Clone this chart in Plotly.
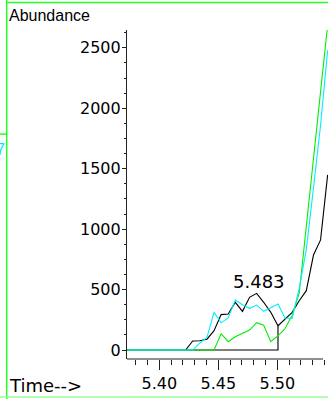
import plotly.graph_objects as go

# ---- data ----
times = [5.3681, 5.3741, 5.3801, 5.3862, 5.3922, 5.3982, 5.4042, 5.4102, 5.4163,
         5.4223, 5.4283, 5.4343, 5.4404, 5.4464, 5.4524, 5.4584, 5.4644, 5.4705,
         5.4765, 5.4825, 5.4885, 5.4945, 5.5006, 5.5066, 5.5126, 5.5186, 5.5246,
         5.5307, 5.5367, 5.5427]
black = [0, 0, 0, 0, 0, 0, 0, 0, 0,
         0, 75, 77, 90, 160, 293, 298, 395, 320,
         436, 469, 395, 312, 201, 257, 312, 408, 491,
         786, 911, 1449]
cyan = [0, 0, 0, 0, 0, 0, 0, 0, 0,
        0, 0, 58, 105, 312, 225, 265, 414, 375,
        345, 372, 320, 350, 381, 265, 262, 510, 830,
        1340, 1860, 2480]
green = [0, 0, 0, 0, 0, 0, 0, 0, 0,
         0, 0, 0, 0, 0, 135, 69, 110, 141,
         165, 226, 205, 69, 118, 178, 288, 470, 1010,
         1590, 2140, 2690]
peak_label = "5.483"
peak_index = 19
base_start, base_end = 9, 22
y_ticks = [0, 500, 1000, 1500, 2000, 2500]

W, H = 328, 399
L, R, T, B = 127, 0, 30, 40.3
pw, ph = W - L - R, H - T - B

def px(x):
    return (x - L) / pw

def py(y):
    return (H - B - y) / ph

FONT = "Liberation Sans, Arial, sans-serif"
WIDE = "DejaVu Sans, Verdana, sans-serif"

fig = go.Figure()
# integration baseline + drop line
fig.add_trace(go.Scatter(
    x=[times[base_start], times[base_end], times[base_end]],
    y=[0, 0, black[base_end]], mode="lines",
    line=dict(color="#000000", width=1.1), hoverinfo="skip"))
fig.add_trace(go.Scatter(x=times, y=black, mode="lines",
                         line=dict(color="#000000", width=1.1)))
fig.add_trace(go.Scatter(x=times, y=green, mode="lines",
                         line=dict(color="#00ee00", width=1.1)))
fig.add_trace(go.Scatter(x=times, y=cyan, mode="lines",
                         line=dict(color="#00eeff", width=1.1)))

fig.add_annotation(x=times[peak_index], y=black[peak_index], xref="x", yref="y",
                   text=peak_label, showarrow=False, xanchor="center",
                   yanchor="middle", xshift=2, yshift=12,
                   font=dict(family=WIDE, size=18, color="#000"))

fig.add_annotation(x=px(7), y=py(16), xref="paper", yref="paper",
                   text="Abundance", showarrow=False, xanchor="left",
                   yanchor="middle", font=dict(family=FONT, size=16, color="#000"))
fig.add_annotation(x=px(7), y=py(385), xref="paper", yref="paper",
                   text="Time-->", showarrow=False, xanchor="left",
                   yanchor="middle", font=dict(family=WIDE, size=18, color="#000"))
fig.add_annotation(x=px(6.5), y=py(149.5), xref="paper", yref="paper",
                   text="7", showarrow=False, xanchor="right",
                   yanchor="middle", font=dict(family=FONT, size=16, color="#00e5ff"))

G = "#22ff22"
shapes = [
    dict(type="line", xref="paper", yref="paper", x0=px(6.7), x1=px(6.7),
         y0=py(0), y1=py(399), line=dict(color=G, width=1.5)),
    dict(type="line", xref="paper", yref="paper", x0=px(6.7), x1=px(328),
         y0=py(2.5), y1=py(2.5), line=dict(color=G, width=1.5)),
    dict(type="line", xref="paper", yref="paper", x0=px(0), x1=px(6.7),
         y0=py(134), y1=py(134), line=dict(color=G, width=1.5)),
    dict(type="line", xref="paper", yref="paper", x0=px(0), x1=px(328),
         y0=py(396.7), y1=py(396.7), line=dict(color="#99ff99", width=1.5)),
    dict(type="line", xref="paper", yref="paper", x0=0, x1=px(323),
         y0=0, y1=0, line=dict(color="#222", width=1.2)),
]

fig.update_layout(
    width=W, height=H, margin=dict(l=L, r=R, t=T, b=B, pad=0),
    paper_bgcolor="white", plot_bgcolor="white", showlegend=False,
    shapes=shapes,
    xaxis=dict(range=[5.3726, 5.543], tick0=5.40, dtick=0.05, tickformat=".2f",
               ticks="outside", ticklen=10, tickwidth=1, tickcolor="#222",
               showline=False, showgrid=False, zeroline=False,
               tickfont=dict(family=WIDE, size=16, color="#000"),
               minor=dict(dtick=0.01, tick0=5.0, ticks="outside", ticklen=5,
                          tickwidth=1, tickcolor="#222", showgrid=False)),
    yaxis=dict(range=[-74, 2647], tickvals=y_ticks,
               ticks="outside", ticklen=4, tickwidth=1, tickcolor="#222",
               showline=True, linecolor="#222", linewidth=1.2,
               showgrid=False, zeroline=False, ticklabelstandoff=-2,
               tickfont=dict(family=WIDE, size=16, color="#000"),
               minor=dict(dtick=125, tick0=0, ticks="outside", ticklen=2,
                          tickwidth=1, tickcolor="#222", showgrid=False)),
)

fig.write_html("out.html", config={"displayModeBar": False},
               post_script="document.body.style.margin='0';document.body.style.overflow='hidden';")
